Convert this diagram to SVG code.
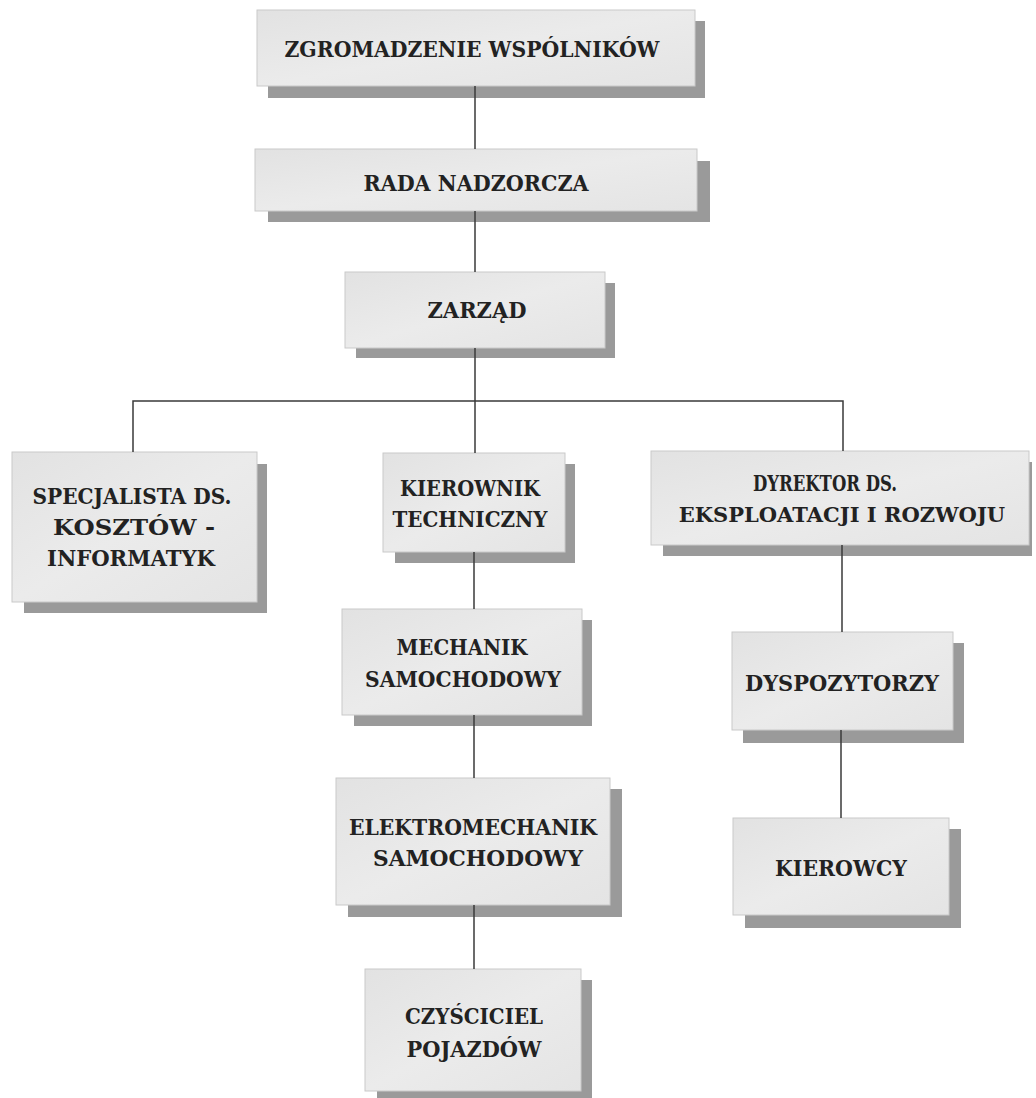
<svg xmlns="http://www.w3.org/2000/svg" width="1036" height="1098" viewBox="0 0 1036 1098">
<style>
.sh{fill:#9a9a9a}
.bx{fill:url(#g);stroke:#c9c9c9;stroke-width:1}
.t{font-family:"DejaVu Serif","Liberation Serif",serif;font-weight:bold;font-size:23px;fill:#222;text-anchor:middle}
.t2{font-size:21px}
.c{stroke:#3a3a3a;stroke-width:1.5;fill:none}
</style>
<defs>
<linearGradient id="g" x1="0" y1="0" x2="1" y2="1">
<stop offset="0" stop-color="#e2e2e2"/>
<stop offset="0.5" stop-color="#ebebeb"/>
<stop offset="1" stop-color="#e4e4e4"/>
</linearGradient>
</defs>
<rect width="1036" height="1098" fill="#ffffff"/>
<g id="n1"><rect class="sh" x="268" y="21" width="437" height="77"/><rect class="bx" x="257" y="10" width="438" height="76"/><text class="t" x="472" y="57" textLength="375" lengthAdjust="spacingAndGlyphs">ZGROMADZENIE WSPÓLNIKÓW</text></g>
<g id="n2"><rect class="sh" x="268" y="161" width="442" height="61"/><rect class="bx" x="255" y="149" width="442" height="62"/><text class="t" x="476" y="191" textLength="225" lengthAdjust="spacingAndGlyphs">RADA NADZORCZA</text></g>
<g id="n3"><rect class="sh" x="356" y="283" width="259" height="75"/><rect class="bx" x="345" y="272" width="260" height="76"/><text class="t" x="477" y="318" textLength="99" lengthAdjust="spacingAndGlyphs">ZARZĄD</text></g>
<g id="n4"><rect class="sh" x="24" y="464" width="243" height="149"/><rect class="bx" x="12" y="452" width="245" height="150"/><text class="t" x="132" y="504" textLength="199" lengthAdjust="spacingAndGlyphs">SPECJALISTA DS.</text><text class="t" x="134" y="535" textLength="162" lengthAdjust="spacingAndGlyphs">KOSZTÓW -</text><text class="t" x="131" y="566" textLength="168" lengthAdjust="spacingAndGlyphs">INFORMATYK</text></g>
<g id="n5"><rect class="sh" x="395" y="464" width="180" height="99"/><rect class="bx" x="383" y="453" width="182" height="99"/><text class="t" x="470" y="496" textLength="140" lengthAdjust="spacingAndGlyphs">KIEROWNIK</text><text class="t" x="470" y="527" textLength="155" lengthAdjust="spacingAndGlyphs">TECHNICZNY</text></g>
<g id="n6"><rect class="sh" x="663" y="462" width="369" height="94"/><rect class="bx" x="651" y="451" width="378" height="94"/><text class="t" x="825" y="491" textLength="144" lengthAdjust="spacingAndGlyphs">DYREKTOR DS.</text><text class="t t2" x="842" y="522">EKSPLOATACJI I ROZWOJU</text></g>
<g id="n7"><rect class="sh" x="354" y="620" width="238" height="106"/><rect class="bx" x="342" y="609" width="240" height="106"/><text class="t" x="462" y="655" textLength="131" lengthAdjust="spacingAndGlyphs">MECHANIK</text><text class="t" x="463" y="687" textLength="196" lengthAdjust="spacingAndGlyphs">SAMOCHODOWY</text></g>
<g id="n8"><rect class="sh" x="348" y="789" width="274" height="128"/><rect class="bx" x="336" y="778" width="274" height="127"/><text class="t" x="473" y="835" textLength="248" lengthAdjust="spacingAndGlyphs">ELEKTROMECHANIK</text><text class="t" x="478" y="866" textLength="210" lengthAdjust="spacingAndGlyphs">SAMOCHODOWY</text></g>
<g id="n9"><rect class="sh" x="377" y="980" width="215" height="118"/><rect class="bx" x="365" y="969" width="216" height="122"/><text class="t" x="474" y="1024" textLength="138" lengthAdjust="spacingAndGlyphs">CZYŚCICIEL</text><text class="t" x="474" y="1057" textLength="135" lengthAdjust="spacingAndGlyphs">POJAZDÓW</text></g>
<g id="n10"><rect class="sh" x="743" y="643" width="221" height="100"/><rect class="bx" x="732" y="632" width="221" height="98"/><text class="t" x="842" y="691" textLength="194" lengthAdjust="spacingAndGlyphs">DYSPOZYTORZY</text></g>
<g id="n11"><rect class="sh" x="745" y="829" width="216" height="99"/><rect class="bx" x="733" y="818" width="216" height="97"/><text class="t" x="841" y="876" textLength="132" lengthAdjust="spacingAndGlyphs">KIEROWCY</text></g>
<g id="connectors">
<line class="c" x1="475" y1="86" x2="475" y2="149"/>
<line class="c" x1="475" y1="211" x2="475" y2="272"/>
<line class="c" x1="475" y1="348" x2="475" y2="453"/>
<polyline class="c" points="133,452 133,401 843,401 843,451" stroke-width="1.2"/>
<line class="c" x1="474" y1="552" x2="474" y2="609"/>
<line class="c" x1="474" y1="715" x2="474" y2="778"/>
<line class="c" x1="474" y1="905" x2="474" y2="969"/>
<line class="c" x1="842" y1="545" x2="842" y2="632"/>
<line class="c" x1="841" y1="730" x2="841" y2="818"/>
</g>
</svg>
